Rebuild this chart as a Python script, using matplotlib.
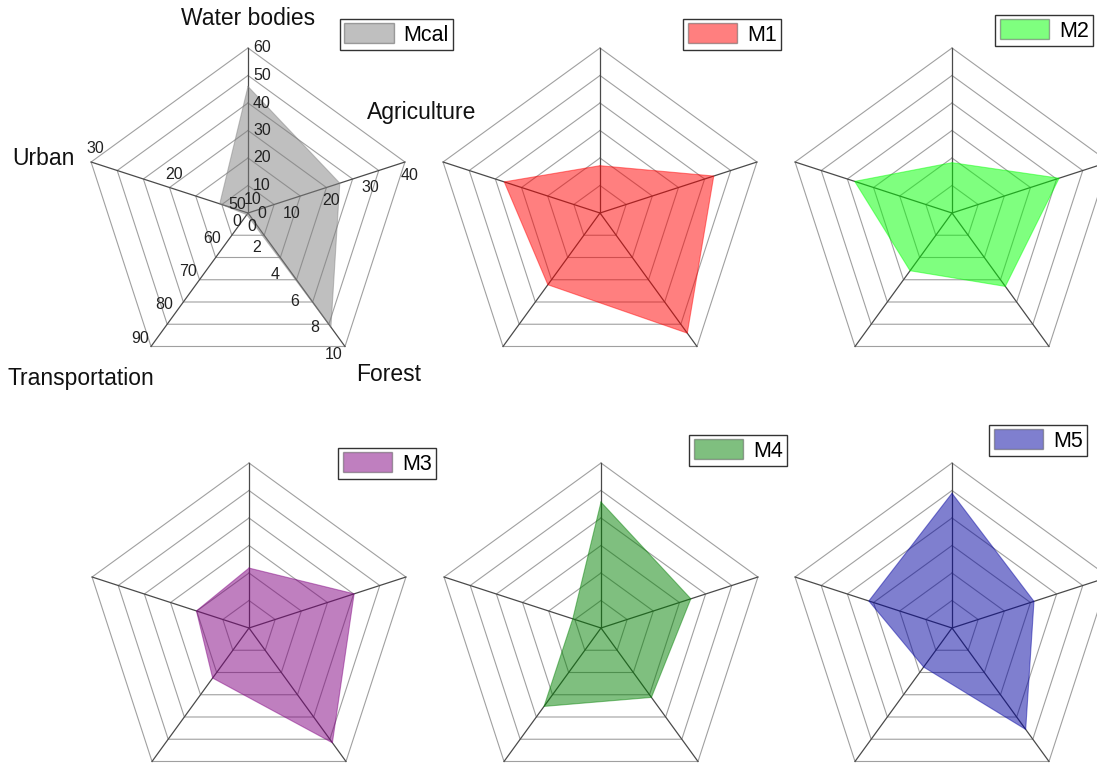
import numpy as np
import matplotlib
matplotlib.use("Agg")
from matplotlib import pyplot as plt
from matplotlib.patches import Patch

plt.rcParams['font.family'] = ['Liberation Sans', 'DejaVu Sans']

# land use categories, clockwise from the top
categories = ["Water bodies", "Agriculture", "Forest", "Transportation", "Urban"]
axis_lo = [0, 0, 0, 50, 10]
axis_hi = [60, 40, 10, 90, 30]
axis_ticks = [
    [0, 10, 20, 30, 40, 50, 60],
    [0, 10, 20, 30, 40],
    [0, 2, 4, 6, 8, 10],
    [50, 60, 70, 80, 90],
    [10, 20, 30],
]

models = ["Mcal", "M1", "M2", "M3", "M4", "M5"]
mcal = [46.0, 23.4, 8.55, 50.5, 13.6]
m1 = [17.2, 29.0, 9.0, 71.5, 22.2]
m2 = [18.3, 27.3, 5.5, 67.3, 22.4]
m3 = [21.8, 26.8, 8.6, 65.0, 16.7]
m4 = [45.8, 22.9, 5.2, 73.5, 13.6]
m5 = [49.0, 20.9, 7.6, 61.7, 20.6]
series = [mcal, m1, m2, m3, m4, m5]
colors = ['#808080', '#ff0000', '#00ff00', '#800080', '#008000', '#0000a0']

W, H = 1097, 763
R = 165  # pentagon radius in px
centers = [(248, 213), (600, 213), (952, 213), (249, 628), (601, 628), (952, 628)]
legend_corner = [(453, 19), (781, 19), (1093, 15), (436, 448), (787, 435), (1087, 425)]

angles = np.deg2rad(90 - 72 * np.arange(5))
n_rings = 6


def to_xy(vals):
    frac = (np.array(vals) - np.array(axis_lo)) / (np.array(axis_hi) - np.array(axis_lo))
    return frac * np.cos(angles), frac * np.sin(angles)


fig = plt.figure(figsize=(W / 100, H / 100), dpi=100)
L = 1.1
for k, (cx, cy) in enumerate(centers):
    side = 2 * L * R
    ax = fig.add_axes([(cx - side / 2) / W, 1 - (cy + side / 2) / H, side / W, side / H])
    ax.set_xlim(-L, L)
    ax.set_ylim(-L, L)
    ax.set_aspect('equal')
    ax.axis('off')

    # pentagon rings and spokes
    for i in range(1, n_rings + 1):
        r = i / n_rings
        xs = np.append(r * np.cos(angles), r * np.cos(angles[0]))
        ys = np.append(r * np.sin(angles), r * np.sin(angles[0]))
        ax.plot(xs, ys, color='#a0a0a0', lw=0.8, zorder=1)
    for a in angles:
        ax.plot([0, np.cos(a)], [0, np.sin(a)], color='#4a4a4a', lw=0.9, zorder=1)

    x, y = to_xy(series[k])
    ax.fill(x, y, facecolor=colors[k], alpha=0.5, edgecolor='none', zorder=2)
    ax.plot(np.append(x, x[0]), np.append(y, y[0]), color=colors[k], alpha=0.45, lw=0.8, zorder=3)

    if k == 0:
        # tick labels sit beside each spoke
        for j, a in enumerate(angles):
            off = np.array([np.sin(a), -np.cos(a)]) * 10
            for t in axis_ticks[j]:
                f = (t - axis_lo[j]) / (axis_hi[j] - axis_lo[j])
                ax.annotate(str(t), (f * np.cos(a), f * np.sin(a)), xytext=off,
                            textcoords='offset points', ha='center', va='center',
                            fontsize=11.5, color='#222222', zorder=4)
        title_pos = [(0, 1.18), (1.05, 0.61), (0.855, -0.98), (-1.01, -1.0), (-1.24, 0.33)]
        for name, (tx, ty) in zip(categories, title_pos):
            ax.text(tx, ty, name, ha='center', va='center', fontsize=16.5, color='#111111')

    lx, ly = legend_corner[k]
    handle = Patch(facecolor=colors[k], alpha=0.5, edgecolor='#555555')
    leg = ax.legend([handle], [models[k]], loc='upper right',
                    bbox_to_anchor=(lx / W, 1 - ly / H), bbox_transform=fig.transFigure,
                    borderaxespad=0, fontsize=15.5, handlelength=2.3, handleheight=1.05,
                    handletextpad=0.45, borderpad=0.2, fancybox=False, framealpha=1)
    leg.get_frame().set_edgecolor('#333333')
    leg.get_frame().set_linewidth(1.0)

fig.savefig("out.png", dpi=100)
